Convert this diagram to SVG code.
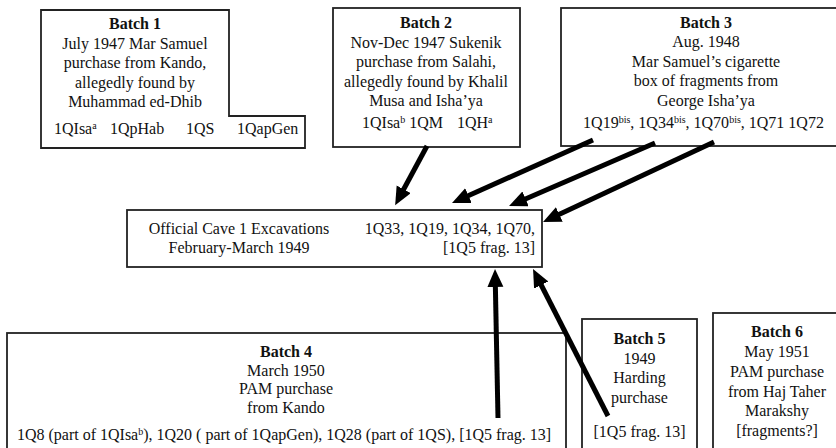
<svg xmlns="http://www.w3.org/2000/svg" width="836" height="448" viewBox="0 0 836 448">
<style>
.box{fill:#fff;stroke:#222;stroke-width:1.8}
text{font-family:"Liberation Serif","Times New Roman",serif;font-size:16px;fill:#111}
.c{text-anchor:middle}
.b{font-weight:bold}
.r{text-anchor:end}
.sup{font-size:10px}
.arr{stroke:#000;stroke-width:5;fill:none;marker-end:url(#ah)}
</style>
<defs>
<marker id="ah" markerUnits="userSpaceOnUse" markerWidth="20" markerHeight="18" viewBox="0 0 20 18" refX="4" refY="8" orient="auto">
<path d="M0,0 L18,8 L0,16 z" fill="#000"/>
</marker>
</defs>
<rect width="836" height="448" fill="#fff"/>

<g id="batch1">
<path class="box" d="M41,10 H229 V116 H305 V148 H41 Z"/>
<text x="135" y="29" class="c b">Batch 1</text>
<text x="135" y="48.5" class="c">July 1947 Mar Samuel</text>
<text x="135" y="68" class="c">purchase from Kando,</text>
<text x="135" y="87.5" class="c">allegedly found by</text>
<text x="135" y="107" class="c">Muhammad ed-Dhib</text>
<text x="54" y="134">1QIsa<tspan class="sup" baseline-shift="super">a</tspan></text>
<text x="110" y="134">1QpHab</text>
<text x="186" y="134">1QS</text>
<text x="237" y="134">1QapGen</text>
</g>

<g id="batch2">
<rect class="box" x="333" y="8" width="187" height="139"/>
<text x="426" y="28" class="c b">Batch 2</text>
<text x="426" y="47.5" class="c">Nov-Dec 1947 Sukenik</text>
<text x="426" y="67" class="c">purchase from Salahi,</text>
<text x="426" y="86.5" class="c">allegedly found by Khalil</text>
<text x="426" y="106" class="c">Musa and Isha’ya</text>
<text x="362" y="128">1QIsa<tspan class="sup" baseline-shift="super">b</tspan> 1QM</text>
<text x="457" y="128">1QH<tspan class="sup" baseline-shift="super">a</tspan></text>
</g>

<g id="batch3">
<rect class="box" x="561" y="8" width="292" height="138"/>
<text x="706" y="27.5" class="c b">Batch 3</text>
<text x="706" y="47" class="c">Aug. 1948</text>
<text x="706" y="66.5" class="c">Mar Samuel’s cigarette</text>
<text x="706" y="86" class="c">box of fragments from</text>
<text x="706" y="105.5" class="c">George Isha’ya</text>
<text x="703.5" y="128" class="c">1Q19<tspan class="sup" baseline-shift="super">bis</tspan>, 1Q34<tspan class="sup" baseline-shift="super">bis</tspan>, 1Q70<tspan class="sup" baseline-shift="super">bis</tspan>, 1Q71 1Q72</text>
</g>

<g id="cave1">
<rect class="box" x="127" y="210" width="415" height="57"/>
<text x="239" y="234" class="c">Official Cave 1 Excavations</text>
<text x="239" y="253" class="c">February-March 1949</text>
<text x="535" y="234" class="r">1Q33, 1Q19, 1Q34, 1Q70,</text>
<text x="535" y="253" class="r">[1Q5 frag. 13]</text>
</g>

<g id="batch4">
<rect class="box" x="7" y="333" width="559" height="130"/>
<text x="286" y="357" class="c b">Batch 4</text>
<text x="286" y="375.5" class="c">March 1950</text>
<text x="286" y="394" class="c">PAM purchase</text>
<text x="286" y="412.5" class="c">from Kando</text>
<text x="284" y="440" class="c">1Q8 (part of 1QIsa<tspan class="sup" baseline-shift="super">b</tspan>), 1Q20 ( part of 1QapGen), 1Q28 (part of 1QS), [1Q5 frag. 13]</text>
</g>

<g id="batch5">
<rect class="box" x="582" y="319" width="115" height="140"/>
<text x="639.5" y="344" class="c b">Batch 5</text>
<text x="639.5" y="363.5" class="c">1949</text>
<text x="639.5" y="383" class="c">Harding</text>
<text x="639.5" y="402.5" class="c">purchase</text>
<text x="639.5" y="437" class="c">[1Q5 frag. 13]</text>
</g>

<g id="batch6">
<rect class="box" x="713" y="313" width="130" height="150"/>
<text x="777" y="337" class="c b">Batch 6</text>
<text x="777" y="357" class="c">May 1951</text>
<text x="777" y="377" class="c">PAM purchase</text>
<text x="777" y="396.5" class="c">from Haj Taher</text>
<text x="777" y="416" class="c">Marakshy</text>
<text x="777" y="436" class="c">[fragments?]</text>
</g>

<g id="connectors">
<line class="arr" x1="427" y1="146" x2="401.8" y2="192.8"/>
<line class="arr" x1="593" y1="140" x2="464.8" y2="197.3"/>
<line class="arr" x1="655" y1="143" x2="521.9" y2="200.5"/>
<line class="arr" x1="714" y1="142" x2="555.7" y2="216.1"/>
<line class="arr" x1="498" y1="418" x2="495.3" y2="283"/>
<line class="arr" x1="608" y1="416" x2="539.4" y2="281.5"/>
</g>
</svg>
